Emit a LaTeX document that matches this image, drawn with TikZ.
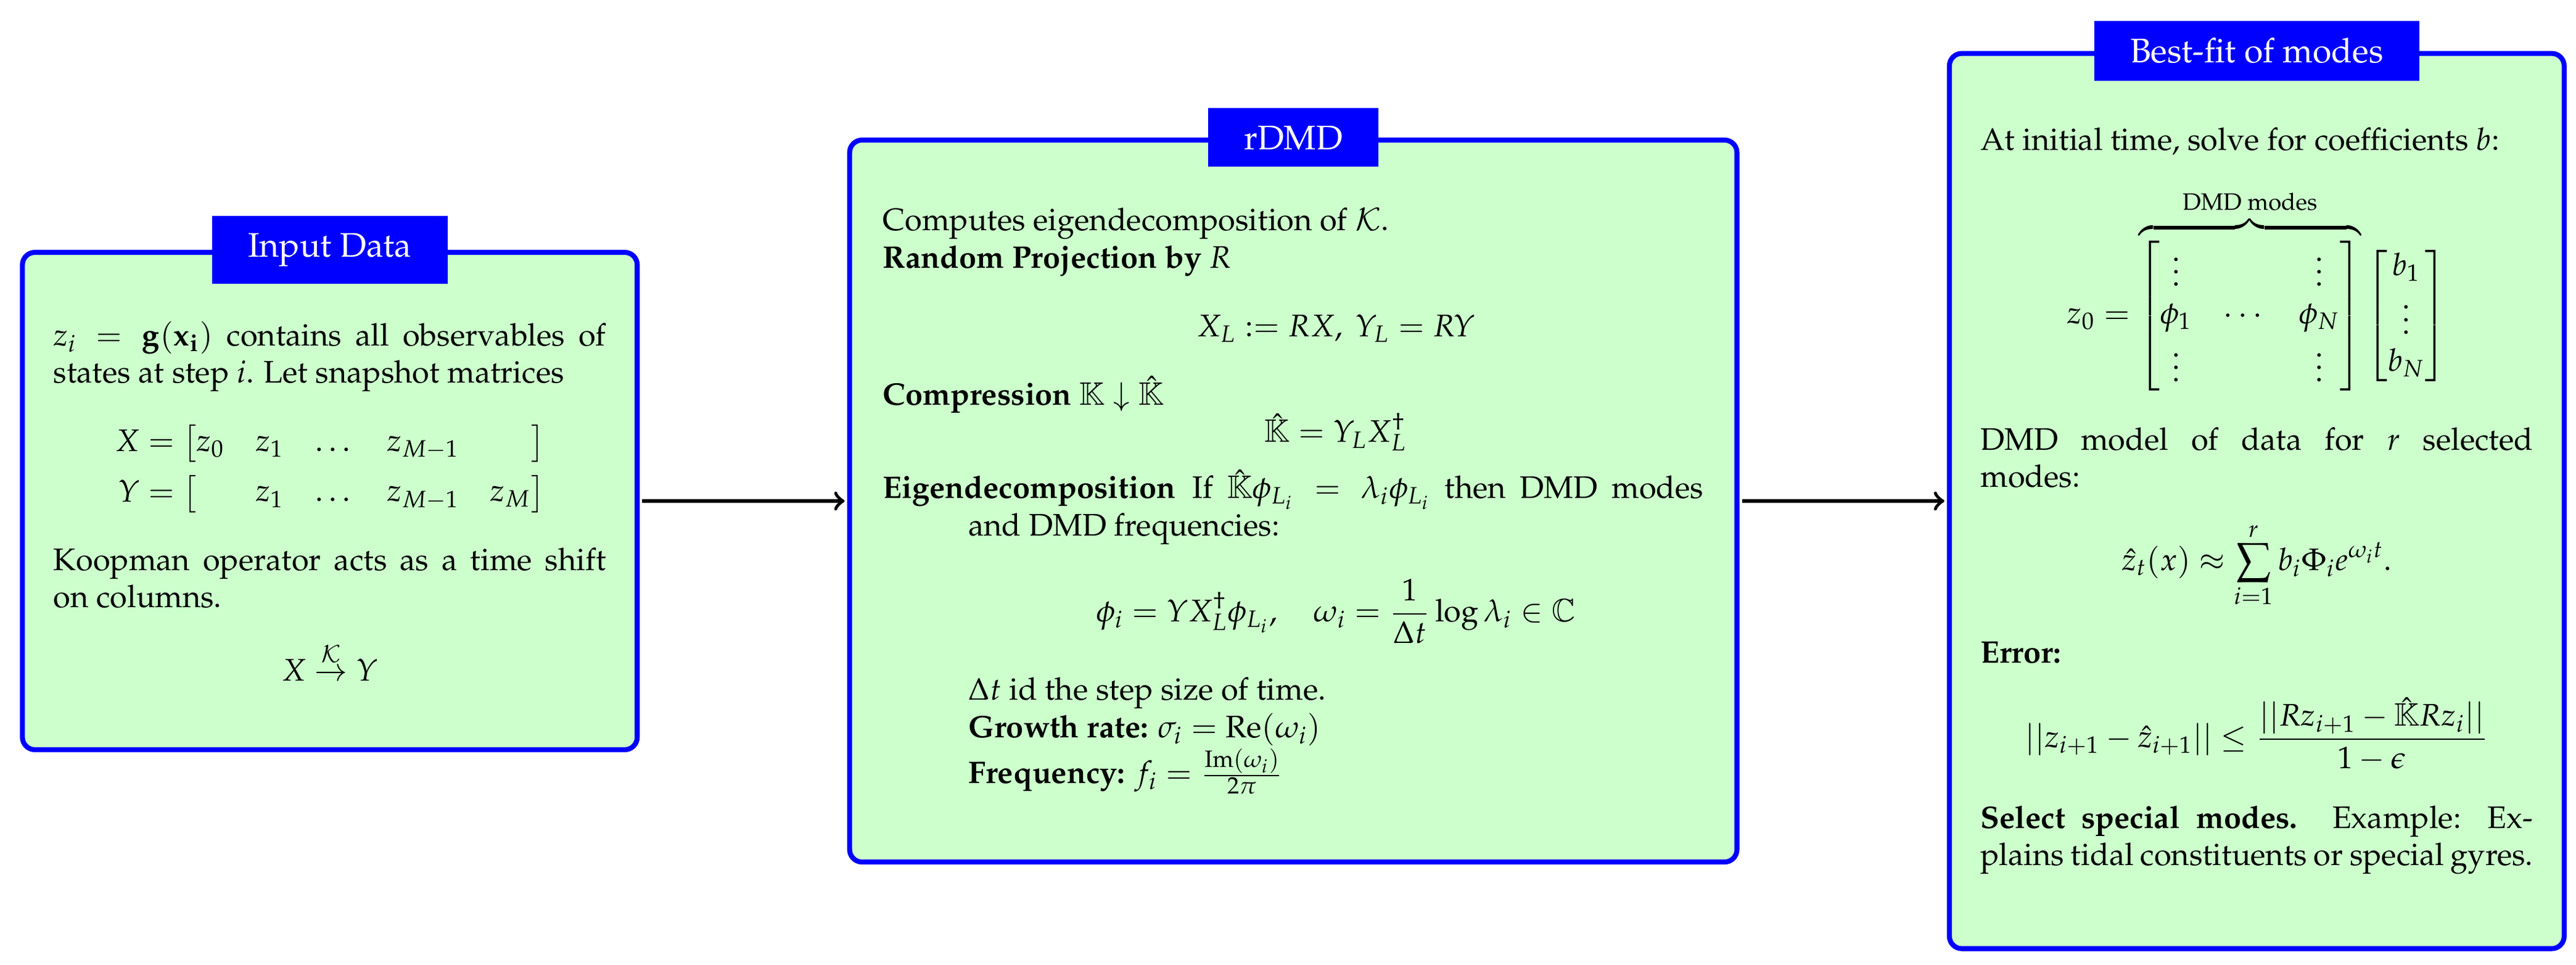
\documentclass[tikz,border=0pt,11pt]{standalone}
\usepackage[T1]{fontenc}
\usepackage[noBBpl]{mathpazo}
\usepackage{amsmath}
\usepackage{amssymb}
\usepackage{amsfonts}
\usepackage{xcolor}
\usepackage{enumitem}
\usepackage{tikz}
\usetikzlibrary{positioning}

\begin{document}
\begin{tikzpicture}[
  infobox/.style={draw=blue, fill=green!20, ultra thick, rectangle, rounded corners,
    inner xsep=10pt, inner ysep=8pt, font=\small, align=justify},
  infotitle/.style={fill=blue, text=white, inner xsep=11.5pt, inner ysep=5.6pt},
  flow/.style={->, very thick, shorten <=0.8pt, shorten >=0.8pt}
]
\useasboundingbox (-105.9pt,-148.7pt) rectangle (721.2pt,160.8pt);
\node[infobox, text width=177.4pt, minimum height=159.6pt] (input) at (0,0) {%
$z_i = \mathbf{g}(\mathbf{x_i})$ contains all observables of states at step $i$. Let snapshot matrices
\begin{align*}
X &= \begin{bmatrix} z_0 & z_1 & \dots & z_{M-1} & \phantom{z_M} \end{bmatrix}\\
Y &= \begin{bmatrix} \phantom{z_0} & z_1 & \dots & z_{M-1} & z_M \end{bmatrix}
\end{align*}
Koopman operator acts as a time shift\linebreak on columns.
\[ X \overset{\mathcal{K}}{\rightarrow} Y \]
};
\node[infobox, text width=263.4pt, inner xsep=10.75pt, minimum height=231.7pt, right=66.6pt of input] (rdmd) {%
Computes eigendecomposition of $\mathcal{K}$.
\begin{description}[topsep=0pt, partopsep=0pt, itemsep=0pt, parsep=0pt]
\item[Random Projection by $R$]
\[ X_L := RX,\ Y_L = RY \]
\item[Compression $\mathbb{K}\downarrow\hat{\mathbb{K}}$]
\[ \hat{\mathbb{K}} = Y_L X_L^{\dagger} \]
\item[Eigendecomposition] If $\hat{\mathbb{K}}\phi_{L_i} = \lambda_i\phi_{L_i}$ then DMD modes\linebreak and DMD frequencies:
\[ \phi_i = Y X_L^{\dagger}\phi_{L_i}, \quad \omega_i = \frac{1}{\Delta t}\log\lambda_i \in \mathbb{C} \]
$\Delta t$ id the step size of time.\par
\textbf{Growth rate:} $\sigma_i = \mathrm{Re}(\omega_i)$\par
\textbf{Frequency:} $f_i = \frac{\mathrm{Im}(\omega_i)}{2\pi}$
\end{description}
};
\node[infobox, text width=177.4pt, minimum height=287.3pt, right=66.6pt of rdmd] (bestfit) {%
At initial time, solve for coefficients $b$:
\[ z_0 = \overbrace{\begin{bmatrix} \vdots & & \vdots \\ \phi_1 & \cdots & \phi_N \\ \vdots & & \vdots \end{bmatrix}}^{\text{DMD modes}}
\begin{bmatrix} b_1 \\ \vdots \\ b_N \end{bmatrix} \]
DMD model of data for $r$ selected\linebreak modes:
\[ \hat{z}_t(x) \approx \sum_{i=1}^{r} b_i \Phi_i e^{\omega_i t}. \]
\textbf{Error:}
\[ ||z_{i+1} - \hat{z}_{i+1}|| \le \frac{||Rz_{i+1} - \hat{\mathbb{K}}Rz_i||}{1-\epsilon} \]
\textbf{Select special modes.} Example: Explains tidal constituents or special gyres.
};
% titles
\node[infotitle] (inputtitle) at (input.north) {Input Data};
\node[infotitle] (rdmdtitle) at (rdmd.north) {rDMD};
\node[infotitle] (bestfittitle) at (bestfit.north) {Best-fit of modes};
% flow
\draw[flow] (input) -- (rdmd);
\draw[flow] (rdmd) -- (bestfit);
\end{tikzpicture}
\end{document}
